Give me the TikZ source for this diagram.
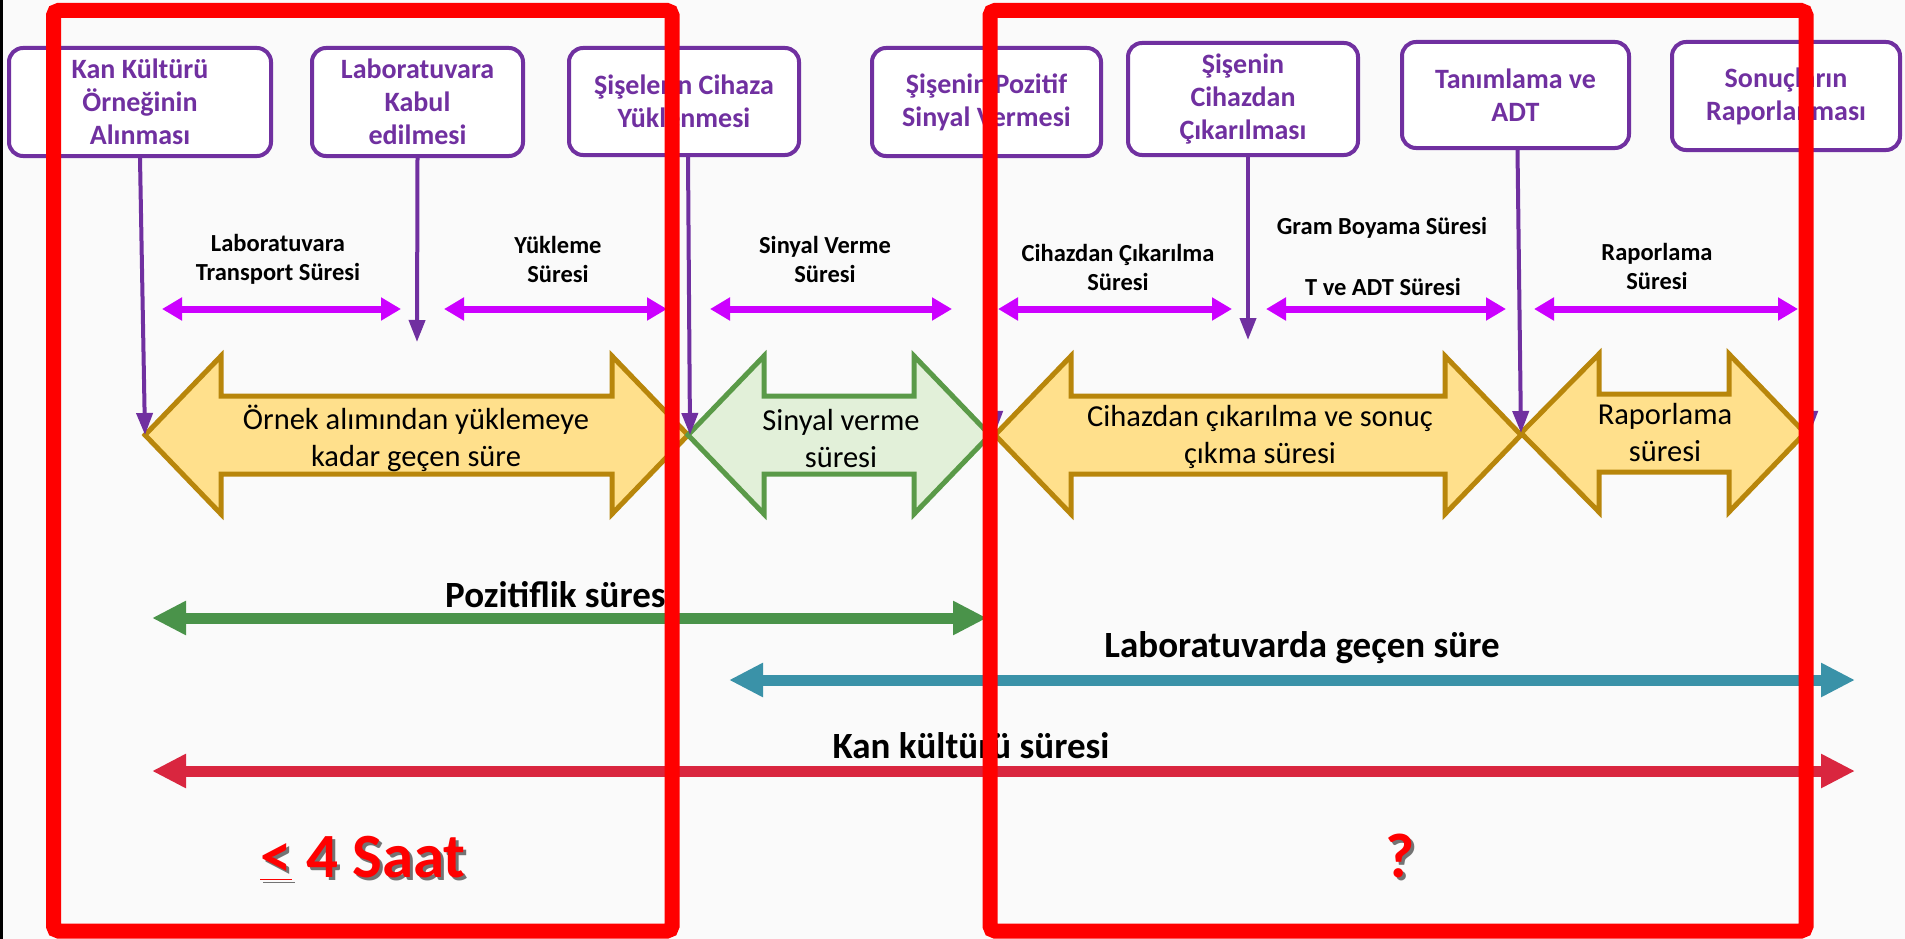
\documentclass[tikz,border=0pt]{standalone}
\usepackage{fontspec}
\setmainfont{Carlito}
\usetikzlibrary{arrows.meta}
\definecolor{purp}{HTML}{7030A0}
\definecolor{magn}{HTML}{CC00FF}
\definecolor{bgc}{HTML}{FAFAFA}
\definecolor{yfill}{HTML}{FFE08C}
\definecolor{ydraw}{HTML}{B8860B}
\definecolor{gfill}{HTML}{E2F0D9}
\definecolor{gdraw}{HTML}{5A9A48}
\definecolor{gline}{HTML}{4A934A}
\definecolor{tline}{HTML}{3A92A8}
\definecolor{rline}{HTML}{D9263F}
\definecolor{rbox}{HTML}{FF0000}
\tikzset{
  pbox/.style={draw=purp, line width=4pt, rounded corners=14pt, fill=white, text=purp,
    font=\bfseries\fontsize{28}{33}\selectfont, align=center, inner sep=0pt},
  parr/.style={draw=purp, line width=4pt, -{Triangle[width=16pt,length=22pt]}},
  marr/.style={draw=magn, line width=7pt, {Triangle[width=22pt,length=20pt]}-{Triangle[width=22pt,length=20pt]}},
  lbl/.style={font=\bfseries\fontsize{24.5}{29}\selectfont, align=center, text=black, inner sep=0pt},
  btxt/.style={font=\fontsize{30.5}{37}\selectfont, align=center, text=black, inner sep=0pt},
  yarrow/.style={fill=yfill, draw=ydraw, line width=5pt, line join=miter},
  garrow/.style={fill=gfill, draw=gdraw, line width=5pt, line join=miter},
  longarr/.style={line width=11pt, {Triangle[width=32pt,length=34pt]}-{Triangle[width=32pt,length=34pt]}},
  blbl/.style={font=\bfseries\fontsize{37}{40}\selectfont, text=black, inner sep=0pt},
  redbox/.style={draw=rbox, line width=15pt, rounded corners=5pt},
  bigred/.style={font=\bfseries\fontsize{63}{68}\selectfont, text=rbox, inner sep=0pt},
  shad/.style={font=\bfseries\fontsize{63}{68}\selectfont, text=black!55, inner sep=0pt}
}
\begin{document}
\begin{tikzpicture}[x=1pt,y=-1pt]
\useasboundingbox (0,0) rectangle (1905,939);
\fill[bgc] (0,0) rectangle (1905,939);
\draw[black, line width=3pt] (1.5,0) -- (1.5,939);

% top boxes
\node[pbox, minimum width=262pt, minimum height=108pt] (b1) at (140,102) {Kan Kültürü\\Örneğinin\\Alınması};
\node[pbox, minimum width=211pt, minimum height=108pt] (b2) at (417.5,102) {Laboratuvara\\Kabul\\edilmesi};
\node[pbox, minimum width=230pt, minimum height=107pt] (b3) at (684,101.5) {Şişelerin Cihaza\\Yüklenmesi};
\node[pbox, minimum width=229pt, minimum height=108pt] (b4) at (986.5,102) {Şişenin Pozitif\\Sinyal Vermesi};
\node[pbox, minimum width=230pt, minimum height=112pt] (b5) at (1243,99) {Şişenin\\Cihazdan\\Çıkarılması};
\node[pbox, minimum width=227pt, minimum height=106pt] (b6) at (1515.5,95) {Tanımlama ve\\ADT};
\node[pbox, minimum width=228pt, minimum height=108pt] (b7) at (1786,96) {Sonuçların\\Raporlanması};

% magenta double arrows
\coordinate (ma1) at (162,309); \coordinate (ma2) at (401,309);
\coordinate (mb1) at (444,309); \coordinate (mb2) at (667,309);
\coordinate (mc1) at (710,309); \coordinate (mc2) at (952,309);
\coordinate (md1) at (998,309); \coordinate (md2) at (1232,309);
\coordinate (me1) at (1266,309); \coordinate (me2) at (1506,309);
\coordinate (mf1) at (1534,309); \coordinate (mf2) at (1798,309);
\draw[marr] (ma1) -- (ma2);
\draw[marr] (mb1) -- (mb2);
\draw[marr] (mc1) -- (mc2);
\draw[marr] (md1) -- (md2);
\draw[marr] (me1) -- (me2);
\draw[marr] (mf1) -- (mf2);

% labels
\node[lbl] (l1) at (278,259) {Laboratuvara\\Transport Süresi};
\node[lbl] (l2) at (558,259) {Yükleme\\Süresi};
\node[lbl] (l3) at (825,259) {Sinyal Verme\\Süresi};
\node[lbl] (l4) at (1118,267.5) {Cihazdan Çıkarılma\\Süresi};
\node[lbl] (l5) at (1382,228) {Gram Boyama Süresi};
\node[lbl] (l6) at (1383,287) {T ve ADT Süresi};
\node[lbl] (l7) at (1657,266.5) {Raporlama\\Süresi};

% big block arrows
\draw[yarrow] (145,435) -- (221,356) -- (221,396) -- (612,396) -- (612,356) -- (688,435)
  -- (612,514) -- (612,474) -- (221,474) -- (221,514) -- cycle;
\draw[garrow] (688,435) -- (764,356) -- (764,396) -- (914,396) -- (914,356) -- (990,435)
  -- (914,514) -- (914,474) -- (764,474) -- (764,514) -- cycle;
\draw[yarrow] (995,435) -- (1071,356) -- (1071,396) -- (1445,396) -- (1445,356) -- (1521,435)
  -- (1445,514) -- (1445,474) -- (1071,474) -- (1071,514) -- cycle;
\draw[yarrow] (1521,433) -- (1599,354) -- (1599,394) -- (1729,394) -- (1729,354) -- (1805,433)
  -- (1729,512) -- (1729,472) -- (1599,472) -- (1599,512) -- cycle;
\node[btxt] (ta) at (416,438.5) {Örnek alımından yüklemeye\\kadar geçen süre};
\node[btxt] (tb) at (841,438.5) {Sinyal verme\\süresi};
\node[btxt] (tc) at (1260,436.5) {Cihazdan çıkarılma ve sonuç\\çıkma süresi};
\node[btxt] (td) at (1665,432.5) {Raporlama\\süresi};

% purple vertical arrows
\coordinate (t1) at (145,435);
\coordinate (e2) at (417,342);
\coordinate (t2) at (690,435);
\coordinate (t3) at (995,433);
\coordinate (e5) at (1248,340);
\coordinate (t4) at (1521,433);
\coordinate (t5) at (1810,433);
\draw[parr] (b1.south) -- (t1);
\draw[parr] (b2.south) -- (e2);
\draw[parr] ([xshift=4pt]b3.south) -- (t2);
\draw[parr] ([xshift=4pt]b4.south) -- (t3);
\draw[parr] ([xshift=5pt]b5.south) -- (e5);
\draw[parr] ([xshift=2pt]b6.south) -- (t4);
\draw[parr] ([xshift=20pt]b7.south) -- (t5);

% long bottom arrows
\coordinate (g1) at (152,618); \coordinate (g2) at (987,618);
\coordinate (c1) at (729,680); \coordinate (c2) at (1855,680);
\coordinate (r1) at (152,771); \coordinate (r2) at (1855,771);
\draw[longarr, draw=gline, fill=gline] (g1) -- (g2);
\draw[longarr, draw=tline, fill=tline] (c1) -- (c2);
\draw[longarr, draw=rline, fill=rline] (r1) -- (r2);
\node[blbl] (pl) at (560,595) {Pozitiflik süresi};
\node[blbl] (ll) at (1302,648) {Laboratuvarda geçen süre};
\node[blbl] (kl) at (971,746) {Kan kültürü süresi};

% red frames
\draw[redbox] (53.5,10.5) rectangle (672,931);
\draw[redbox] (990,10.5) rectangle (1806,931);

% red notes
\node[shad] at (366,861) {\underline{<} 4 Saat};
\node[bigred] (s4) at (363,858) {\underline{<} 4 Saat};
\node[shad] at (1403,859) {?};
\node[bigred] (q) at (1400,856) {?};
\end{tikzpicture}
\end{document}
